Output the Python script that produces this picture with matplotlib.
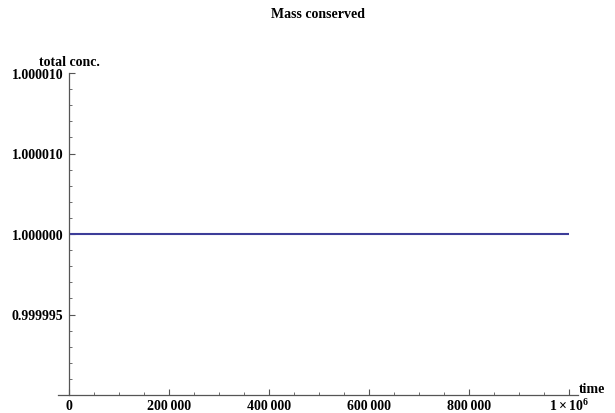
import matplotlib; matplotlib.use("Agg")
import matplotlib.pyplot as plt, numpy as np
from matplotlib.ticker import FixedLocator, MultipleLocator

plt.rcParams.update({"font.family": ["Liberation Serif", "DejaVu Serif"], "font.weight": "bold",
 "mathtext.fontset": "custom", "mathtext.rm": "Liberation Serif:bold",
 "mathtext.it": "Liberation Serif:bold", "mathtext.bf": "Liberation Serif:bold"})

# data: total concentration over time (constant -> mass conserved)
time = [0, 1000000]
conc = [1.0, 1.0]

xticks = [0, 200000, 400000, 600000, 800000, 1000000]
xlabels = ["0", "200\u2009000", "400\u2009000", "600\u2009000", "800\u2009000", ""]
last_xlabel = r"$1\times10^{6}$"
yticks = [0.999995, 1.0, 1.000005, 1.00001]
ylabels = ["0.999995", "1.000000", "1.000010", "1.000010"]

AX = "#555555"
fig = plt.figure(figsize=(6.15, 4.14), dpi=100)
ax = fig.add_axes([58/615, 18/414, 520/615, 322/414])
ax.plot(time, conc, color="#3D3D99", lw=1.5, solid_capstyle="butt")
ax.set_xlim(-22000, 1018000)
ax.set_ylim(0.99999, 1.00001)
ax.spines["left"].set_position(("data", 0))
for s in ("top", "right"):
    ax.spines[s].set_visible(False)
for s in ("left", "bottom"):
    ax.spines[s].set_color(AX); ax.spines[s].set_linewidth(0.9)
ax.xaxis.set_major_locator(FixedLocator(xticks)); ax.set_xticklabels(xlabels, fontsize=10, fontweight="bold")
ax.yaxis.set_major_locator(FixedLocator(yticks)); ax.set_yticklabels(ylabels, fontsize=10, fontweight="bold")
ax.yaxis.set_minor_locator(MultipleLocator(1e-6))
ax.xaxis.set_minor_locator(FixedLocator([v for v in np.arange(0, 1000001, 50000) if v not in xticks]))
ax.tick_params(which="major", direction="in", length=4, width=0.8, color=AX, pad=3)
ax.tick_params(which="minor", direction="in", length=2.5, width=0.6, color=AX)
ax.tick_params(axis="y", pad=4)
ax.annotate(last_xlabel, (xticks[-1], 0), xycoords=ax.get_xaxis_transform(), xytext=(0, -1.5),
            textcoords="offset points", fontsize=10, fontweight="bold", ha="center", va="top")
ax.text(1019000, 0.99999, "time", fontsize=10, fontweight="bold", ha="left", va="bottom")
ax.text(0, 1.0000103, "total conc.", fontsize=10, fontweight="bold", ha="center", va="bottom")
fig.text(318/615, 1 - 14/414, "Mass conserved", fontsize=10, fontweight="bold", ha="center", va="center")
fig.savefig("out.png", dpi=100)
